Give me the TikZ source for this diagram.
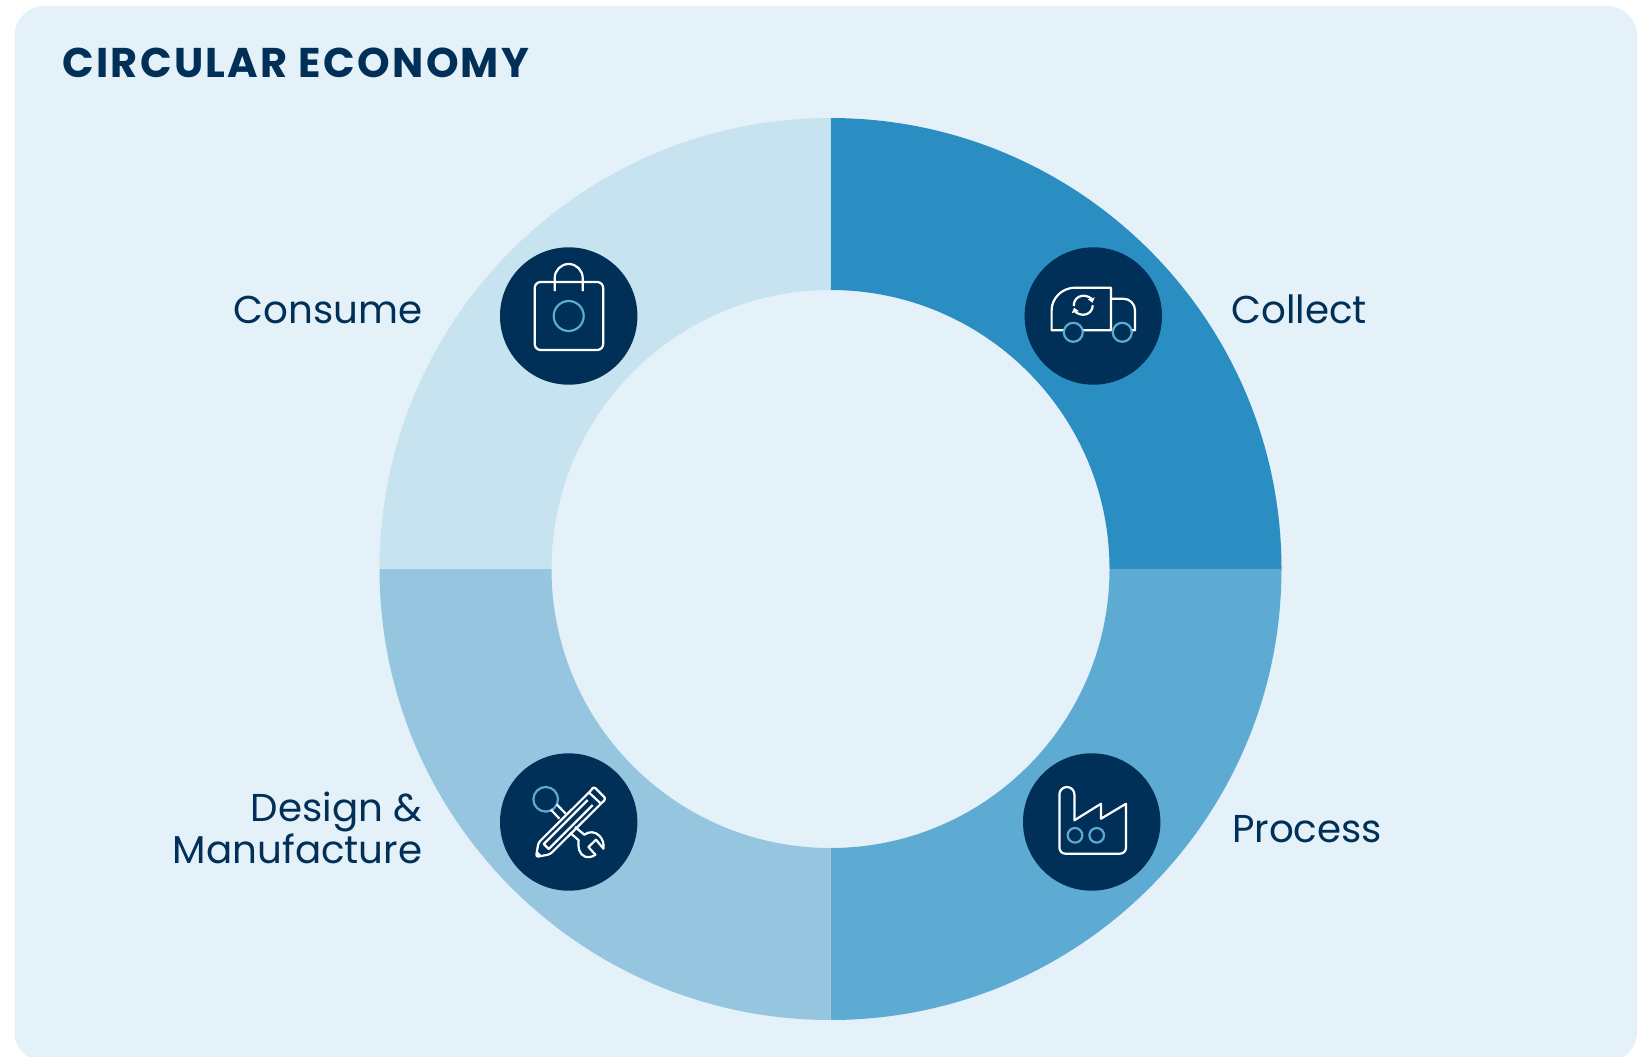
\documentclass[tikz,border=0pt]{standalone}
\usepackage{fontspec}
\setmainfont{Poppins}
\usetikzlibrary{positioning,arrows,calc,fit,arrows.meta}
\definecolor{paneblue}{HTML}{E4F1F9}
\definecolor{navy}{HTML}{003057}
\definecolor{collectblue}{HTML}{2B8EC3}
\definecolor{processblue}{HTML}{5DAAD2}
\definecolor{designblue}{HTML}{96C6DF}
\definecolor{consumeblue}{HTML}{C7E3EF}
\tikzset{
	disc/.style={circle,fill=navy,minimum size=137.4pt,inner sep=0pt},
	steplabel/.style={text=navy,font=\fontsize{38.8}{42}\selectfont,inner sep=0pt},
	headlabel/.style={text=navy,font=\fontsize{41.5}{46}\selectfont\bfseries\addfontfeature{LetterSpace=5.6},inner sep=0pt},
	icon/.style={draw=white,line width=2.2pt,line join=round},
	iconring/.style={draw=processblue,line width=2.2pt},
	turn/.style={icon,-{Triangle[width=7pt,length=4.5pt]}}
}
\newcommand{\sector}[3]{\fill[#1] (830.5,569) ++(#2:451) arc[start angle=#2,end angle=#3,radius=451] -- ($(830.5,569)+(#3:279)$) arc[start angle=#3,end angle=#2,radius=279] -- cycle;}

\begin{document}
\begin{tikzpicture}[x=1pt,y=-1pt]
	\useasboundingbox (0,0) rectangle (1638,1057);
	\begin{scope}
		\clip (0,0) rectangle (1638,1057);
		\fill[paneblue,rounded corners=30pt] (14.5,6) rectangle (1637,1062);
	\end{scope}

	% y runs downward, so the angles turn clockwise
	\sector{collectblue}{-90}{0}
	\sector{processblue}{0}{90}
	\sector{designblue}{90}{180}
	\sector{consumeblue}{180}{270}

	\node[headlabel,anchor=base west] (heading) at (62,77.3) {CIRCULAR ECONOMY};

	\node[disc] (bag) at (568.7,316) {};
	\node[disc] (truck) at (1093.3,316) {};
	\node[disc] (tools) at (568.7,822) {};
	\node[disc] (factory) at (1091.7,822) {};

	\node[steplabel,anchor=base east] (consume) at (422.5,323) {Consume};
	\node[steplabel,anchor=base west] (collect) at (1231,323) {Collect};
	\node[steplabel,anchor=base east,align=right] (design) at (422.5,863) {Design \&\\Manufacture};
	\node[steplabel,anchor=base west] (process) at (1232,842) {Process};

	% bag
	\begin{scope}[shift={(bag.center)}]
		\draw[icon,rounded corners=6pt] (-34,-34) rectangle (34.5,34);
		\draw[icon] (-14,-25) -- (-14,-38) arc[start angle=180,end angle=360,radius=14] -- (14,-25);
		\draw[iconring] (0,0) circle (15);
	\end{scope}

	% truck
	\begin{scope}[shift={(truck.center)}]
		\draw[icon] (-29,14.3) -- (-41.7,14.3) -- (-41.7,-5.7) .. controls (-41.7,-18) and (-31,-28.3) .. (-18.3,-28.3) -- (17.7,-28.3) -- (17.7,14.3) -- (-11,14.3);
		\draw[icon] (17.7,-17.3) -- (30,-17.3) arc[start angle=-90,end angle=0,radius=11.7] -- (41.7,14.3) -- (38,14.3);
		\draw[iconring] (-20,16.3) circle (9.5);
		\draw[iconring] (29,16.3) circle (9.5);
		\draw[turn] (-19.5,-10) arc[start angle=175,end angle=345,radius=9.5];
		\draw[turn] (-0.5,-10.7) arc[start angle=0,end angle=165,radius=9.5];
	\end{scope}

	% tools
	\begin{scope}[shift={(tools.center)}]
		\draw[iconring] (-23,-22.7) circle (12.3);
		\draw[icon] (-12,-17.7) -- (-3,-8.3);
		\draw[icon] (-17.7,-12.3) -- (-9.3,-3.3);
		\draw[icon] (6.3,5) -- (15.7,12.7) .. controls (20,9) and (27,9.5) .. (31,14) .. controls (34,17.5) and (35.5,22) .. (34.7,26.7) -- (27.3,17.7) -- (19.7,25) -- (26.7,32.7) .. controls (19,38) and (12,34) .. (10.5,28) .. controls (9.5,24) and (9.5,20) .. (10,18.3) -- (1.3,10.7);
		\draw[icon,rounded corners=2.5pt] (-32.7,35) -- (-30.3,20.7) -- (23,-32.3) -- (25,-35.5) -- (37.3,-23.3) -- (-18.7,32.3) -- cycle;
		\draw[icon] (19.7,-30) -- (32.3,-18.3);
		\draw[icon] (19,-22) -- (-25,22) -- (-20,27) -- (24,-17);
		\fill[white] (-32.7,35) -- (-31.5,29) -- (-27,33.5) -- cycle;
	\end{scope}

	% factory
	\begin{scope}[shift={(factory.center)}]
		\draw[icon] (-32.3,25.7) -- (-32.3,-27.5) arc[start angle=180,end angle=360,radius=7.5] -- (-17.3,-1.7) -- (9.3,-18.3) -- (9.3,-3.3) -- (34.3,-18.3) -- (34.3,25.7) arc[start angle=0,end angle=90,radius=6] -- (-26.3,31.7) arc[start angle=90,end angle=180,radius=6] -- cycle;
		\draw[iconring] (-16.7,13.3) circle (7.3);
		\draw[iconring] (5,13.3) circle (7.3);
	\end{scope}
\end{tikzpicture}
\end{document}
